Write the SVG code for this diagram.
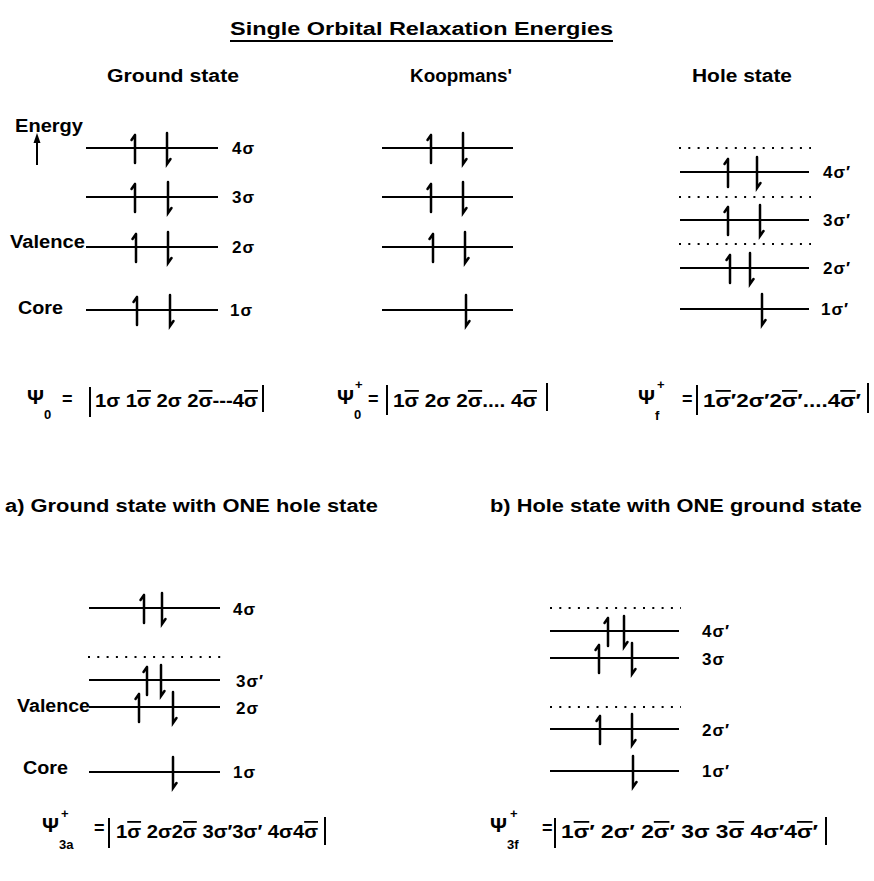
<svg xmlns="http://www.w3.org/2000/svg" xmlns:xlink="http://www.w3.org/1999/xlink" width="874" height="881" viewBox="0 0 874 881">
<style>
text{font-family:"Liberation Sans","DejaVu Sans",sans-serif;fill:#000;font-weight:bold}
.hd{font-size:18px}
.lb{font-size:17px;letter-spacing:1px}
.fm{font-size:18px}
.ps{font-size:21px}
.sb{font-size:13px}
.ov{text-decoration:overline}
.lv{stroke:#000;stroke-width:2;fill:none}
.dt{stroke:#000;stroke-width:2;fill:none;stroke-dasharray:2 7.3}
.el{stroke:#000;stroke-width:2.5;fill:none;stroke-linecap:round}
.br{stroke:#000;stroke-width:2;fill:none}
</style>
<defs>
<path id="up" class="el" d="M0,-13 V15 M0,-13 L-3.5,-8"/>
<path id="dn" class="el" d="M0,-15 V16 L3.5,11"/>
</defs>
<rect width="874" height="881" fill="#fff"/>

<g id="title">
<text class="hd" x="230" y="35" textLength="383" lengthAdjust="spacingAndGlyphs">Single  Orbital  Relaxation  Energies</text>
<line class="lv" x1="230" y1="41" x2="613" y2="41"/>
</g>

<g id="ground">
<text class="hd" x="107" y="82" textLength="132" lengthAdjust="spacingAndGlyphs">Ground  state</text>
<text class="hd" x="15" y="132" textLength="68" lengthAdjust="spacingAndGlyphs">Energy</text>
<text class="hd" x="10" y="248" textLength="75" lengthAdjust="spacingAndGlyphs">Valence</text>
<text class="hd" x="18" y="314" textLength="45" lengthAdjust="spacingAndGlyphs">Core</text>
<path class="lv" d="M86,148 H218 M86,197 H218 M86,247 H218 M86,310 H218"/>
<use xlink:href="#up" x="135" y="148"/><use xlink:href="#dn" x="167" y="148"/>
<use xlink:href="#up" x="135" y="197"/><use xlink:href="#dn" x="168" y="197"/>
<use xlink:href="#up" x="136" y="247"/><use xlink:href="#dn" x="168" y="247"/>
<use xlink:href="#up" x="137" y="310"/><use xlink:href="#dn" x="170" y="310"/>
<text class="lb" x="232" y="154">4σ</text>
<text class="lb" x="232" y="203">3σ</text>
<text class="lb" x="232" y="253">2σ</text>
<text class="lb" x="230" y="316">1σ</text>
</g>

<g id="koopmans">
<text class="hd" x="410" y="82" textLength="102" lengthAdjust="spacingAndGlyphs">Koopmans'</text>
<path class="lv" d="M382,148 H513 M382,197 H513 M382,247 H513 M382,310 H513"/>
<use xlink:href="#up" x="431" y="148"/><use xlink:href="#dn" x="463" y="148"/>
<use xlink:href="#up" x="431" y="197"/><use xlink:href="#dn" x="463" y="197"/>
<use xlink:href="#up" x="433" y="247"/><use xlink:href="#dn" x="465" y="247"/>
<use xlink:href="#dn" x="466" y="310"/>
</g>

<g id="hole">
<text class="hd" x="692" y="82" textLength="100" lengthAdjust="spacingAndGlyphs">Hole  state</text>
<path class="dt" d="M679,148 H811 M679,197 H811 M679,244 H811"/>
<path class="lv" d="M680,172 H809 M680,220 H809 M680,268 H809 M680,309 H809"/>
<use xlink:href="#up" x="728" y="172"/><use xlink:href="#dn" x="757" y="172"/>
<use xlink:href="#up" x="728" y="220"/><use xlink:href="#dn" x="760" y="220"/>
<use xlink:href="#up" x="730" y="268"/><use xlink:href="#dn" x="750" y="268"/>
<use xlink:href="#dn" x="762" y="309"/>
<text class="lb" x="823" y="178">4σ′</text>
<text class="lb" x="823" y="226">3σ′</text>
<text class="lb" x="823" y="274">2σ′</text>
<text class="lb" x="821" y="315">1σ′</text>
</g>

<g id="formula-psi0">
<text class="ps" x="27" y="404">Ψ</text>
<text class="sb" x="44" y="419">0</text>
<text class="fm" x="62" y="405">=</text>
<line class="br" x1="90" y1="387" x2="90" y2="417"/>
<text class="fm" x="95" y="407" textLength="163" lengthAdjust="spacingAndGlyphs">1σ 1<tspan class="ov">σ</tspan> 2σ 2<tspan class="ov">σ</tspan>---4<tspan class="ov">σ</tspan></text>
<line class="br" x1="263" y1="385" x2="263" y2="412"/>
</g>

<g id="formula-psi0plus">
<text class="ps" x="337" y="404">Ψ</text>
<text class="sb" x="354" y="419">0</text>
<text class="sb" x="355" y="389">+</text>
<text class="fm" x="368" y="405">=</text>
<line class="br" x1="387" y1="385" x2="387" y2="415"/>
<text class="fm" x="393" y="407" textLength="144" lengthAdjust="spacingAndGlyphs">1<tspan class="ov">σ</tspan> 2σ 2<tspan class="ov">σ</tspan>.... 4<tspan class="ov">σ</tspan></text>
<line class="br" x1="547" y1="383" x2="547" y2="411"/>
</g>

<g id="formula-psif">
<text class="ps" x="638" y="404">Ψ</text>
<text class="sb" x="655" y="420">f</text>
<text class="sb" x="657" y="389">+</text>
<text class="fm" x="682" y="405">=</text>
<line class="br" x1="697" y1="385" x2="697" y2="415"/>
<text class="fm" x="703" y="407" textLength="158" lengthAdjust="spacingAndGlyphs">1<tspan class="ov">σ</tspan>′2σ′2<tspan class="ov">σ</tspan>′....4<tspan class="ov">σ</tspan>′</text>
<line class="br" x1="868" y1="383" x2="868" y2="413"/>
</g>

<g id="case-a">
<text class="hd" x="5" y="512" textLength="373" lengthAdjust="spacingAndGlyphs">a) Ground state with ONE hole state</text>
<text class="hd" x="17" y="712" textLength="73" lengthAdjust="spacingAndGlyphs">Valence</text>
<text class="hd" x="23" y="774" textLength="45" lengthAdjust="spacingAndGlyphs">Core</text>
<path class="lv" d="M89,608 H220 M89,680 H220 M89,707 H220 M89,772 H220"/>
<path class="dt" d="M88,657 H221"/>
<use xlink:href="#up" x="144" y="608"/><use xlink:href="#dn" x="162" y="608"/>
<use xlink:href="#up" x="147" y="680"/><use xlink:href="#dn" x="161" y="680"/>
<use xlink:href="#up" x="139" y="707"/><use xlink:href="#dn" x="173" y="707"/>
<use xlink:href="#dn" x="173" y="772"/>
<text class="lb" x="233" y="615">4σ</text>
<text class="lb" x="236" y="687">3σ′</text>
<text class="lb" x="236" y="714">2σ</text>
<text class="lb" x="233" y="778">1σ</text>
</g>

<g id="case-b">
<text class="hd" x="490" y="512" textLength="372" lengthAdjust="spacingAndGlyphs">b) Hole state with ONE ground state</text>
<path class="dt" d="M550,608 H681 M550,707 H681"/>
<path class="lv" d="M550,631 H679 M550,658 H679 M550,729 H679 M550,771 H679"/>
<use xlink:href="#up" x="608" y="631"/><use xlink:href="#dn" x="624" y="631"/>
<use xlink:href="#up" x="599" y="658"/><use xlink:href="#dn" x="632" y="658"/>
<use xlink:href="#up" x="600" y="729"/><use xlink:href="#dn" x="632" y="729"/>
<use xlink:href="#dn" x="633" y="771"/>
<text class="lb" x="702" y="637">4σ′</text>
<text class="lb" x="702" y="665">3σ</text>
<text class="lb" x="702" y="736">2σ′</text>
<text class="lb" x="702" y="777">1σ′</text>
</g>

<g id="formula-psi3a">
<text class="ps" x="42" y="832">Ψ</text>
<text class="sb" x="59" y="849">3a</text>
<text class="sb" x="61" y="818">+</text>
<text class="fm" x="94" y="834">=</text>
<line class="br" x1="109" y1="818" x2="109" y2="848"/>
<text class="fm" x="116" y="838" textLength="202" lengthAdjust="spacingAndGlyphs">1<tspan class="ov">σ</tspan> 2σ2<tspan class="ov">σ</tspan> 3σ′3σ′ 4σ4<tspan class="ov">σ</tspan></text>
<line class="br" x1="325" y1="817" x2="325" y2="845"/>
</g>

<g id="formula-psi3f">
<text class="ps" x="490" y="832">Ψ</text>
<text class="sb" x="507" y="849">3f</text>
<text class="sb" x="510" y="818">+</text>
<text class="fm" x="542" y="834">=</text>
<line class="br" x1="555" y1="818" x2="555" y2="848"/>
<text class="fm" x="561" y="838" textLength="257" lengthAdjust="spacingAndGlyphs">1<tspan class="ov">σ</tspan>′ 2σ′ 2<tspan class="ov">σ</tspan>′ 3σ 3<tspan class="ov">σ</tspan> 4σ′4<tspan class="ov">σ</tspan>′</text>
<line class="br" x1="826" y1="817" x2="826" y2="845"/>
</g>

<g id="connectors">
<line class="lv" x1="37" y1="165" x2="37" y2="141"/>
<polygon points="37,133 33.5,143 40.5,143" fill="#000"/>
</g>
</svg>
